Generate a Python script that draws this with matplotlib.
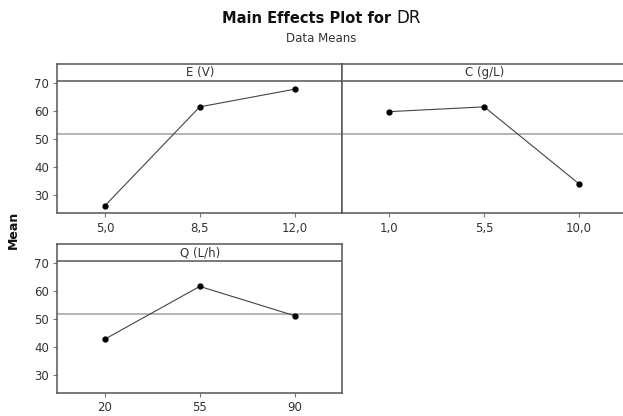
import matplotlib
matplotlib.use("Agg")
import matplotlib.pyplot as plt
import numpy as np

# factor levels and their mean DR
e_levels = ["5,0", "8,5", "12,0"]
e_means = [26.3, 61.6, 67.9]
c_levels = ["1,0", "5,5", "10,0"]
c_means = [59.9, 61.6, 34.1]
q_levels = ["20", "55", "90"]
q_means = [42.8, 61.7, 51.2]
grand_mean = 51.8

W, H = 623, 416
fig = plt.figure(figsize=(W / 100, H / 100), dpi=100)
plt.rcParams['font.family'] = ['DejaVu Sans']

def px_box(x0, y0, x1, y1):
    # pixel box (top-left origin) -> figure fraction rect
    return [x0 / W, 1 - y1 / H, (x1 - x0) / W, (y1 - y0) / H]

edge = '#555555'
panels = [
    ("E (V)", e_levels, e_means, px_box(57.5, 64, 342, 213.3), True),
    ("C (g/L)", c_levels, c_means, px_box(342, 64, 626.5, 213.3), False),
    ("Q (L/h)", q_levels, q_means, px_box(57.5, 244, 342, 392.7), True),
]

for title, levels, means, rect, show_y in panels:
    ax = fig.add_axes(rect)
    xs = np.arange(len(levels))
    ax.axhline(grand_mean, color='#a0a0a0', lw=1.1, zorder=1)
    ax.plot(xs, means, color='#444444', lw=0.8, marker='o', markersize=3.5,
            markerfacecolor='black', markeredgecolor='black', zorder=3)
    ax.set_xlim(-0.5, 2.5)
    ax.set_ylim(23.6, 76.9)
    # strip header line and label
    ax.axhline(70.75, color=edge, lw=1.1, zorder=2)
    ax.text(1, 73.8, title, ha='center', va='center', fontsize=8.5, color='#333333')
    ax.set_xticks(xs)
    ax.set_xticklabels(levels)
    ax.set_yticks([30, 40, 50, 60, 70])
    if not show_y:
        ax.tick_params(axis='y', left=False, labelleft=False)
    ax.tick_params(direction='out', length=3, width=0.8, color='#777777',
                   labelsize=8.5, labelcolor='#333333', pad=3)
    for s in ax.spines.values():
        s.set_color(edge)
        s.set_linewidth(1.1)

# title: bold part plus regular "DR"
fig.text(391 / W, 1 - 18.5 / H, "Main Effects Plot for", ha='right', va='center',
         fontsize=10.5, fontweight='bold', color='#111111')
fig.text(396 / W, 1 - 18 / H, "DR", ha='left', va='center',
         fontsize=12, color='#111111')
fig.text(321 / W, 1 - 38 / H, "Data Means", ha='center', va='center',
         fontsize=8.5, color='#333333')
fig.text(13 / W, 1 - 230 / H, "Mean", ha='center', va='center', rotation=90,
         fontsize=9, fontweight='bold', color='#111111')

fig.savefig("out.png", dpi=100)
